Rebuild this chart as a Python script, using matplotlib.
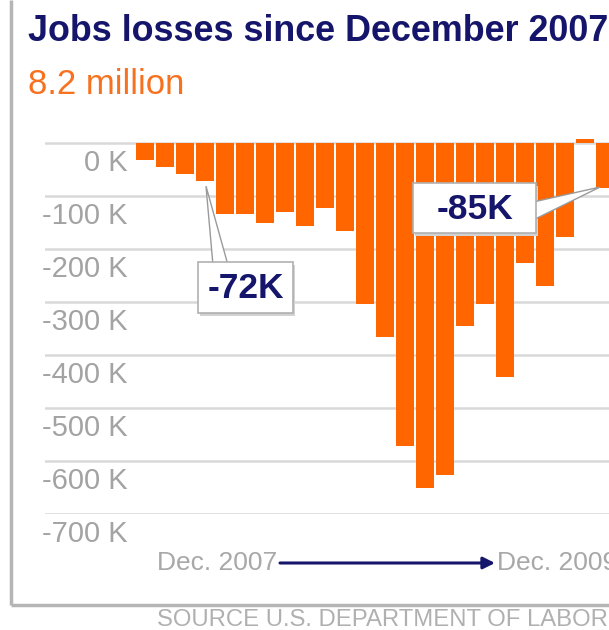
import numpy as np
import matplotlib.pyplot as plt
from matplotlib.patches import Rectangle, Polygon

plt.rcParams['font.family'] = ['Liberation Sans', 'DejaVu Sans']

# monthly change in payrolls, thousands (Jan 2008 .. Dec 2009)
months = ['Jan 08', 'Feb 08', 'Mar 08', 'Apr 08', 'May 08', 'Jun 08',
          'Jul 08', 'Aug 08', 'Sep 08', 'Oct 08', 'Nov 08', 'Dec 08',
          'Jan 09', 'Feb 09', 'Mar 09', 'Apr 09', 'May 09', 'Jun 09',
          'Jul 09', 'Aug 09', 'Sep 09', 'Oct 09', 'Nov 09', 'Dec 09']
change = [-32, -45, -58, -72, -134, -134, -151, -130, -157, -123, -166, -304,
          -366, -572, -651, -626, -345, -304, -442, -226, -270, -177, 8, -85]

yticks = [0, -100, -200, -300, -400, -500, -600, -700]
ylabels = ['0 K', '-100 K', '-200 K', '-300 K', '-400 K', '-500 K', '-600 K', '-700 K']

# bar index, callout text
callouts = [(3, '-72K'), (23, '-85K')]

title = 'Jobs losses since December 2007'
subtitle = '8.2 million'
start_lbl = 'Dec. 2007'
end_lbl = 'Dec. 2009'
source = 'SOURCE U.S. DEPARTMENT OF LABOR'

W, H = 609, 630
NAVY = '#15156b'
ORANGE = '#ff6600'

fig = plt.figure(figsize=(W / 100, H / 100), dpi=100)

# bar area in pixels: 0 K sits at y=143, 0.53 px per thousand
k = 0.53
y0 = 143
ytop, ybot = 20, -700
top_px = y0 - ytop * k
bot_px = y0 - ybot * k
left_px, right_px = 45, 609
ax = fig.add_axes([left_px / W, 1 - bot_px / H, (right_px - left_px) / W, (bot_px - top_px) / H])
ax.set_xlim(-5, -5 + (right_px - left_px) / 20)
ax.set_ylim(ybot, ytop)
ax.axis('off')

for v, lbl in zip(yticks, ylabels):
    ax.axhline(v, color='#d9d9d9', lw=1.8, zorder=1)
    ax.annotate(lbl, xy=(0, v), xycoords=('axes fraction', 'data'),
                xytext=(128 - left_px, -20), textcoords='offset pixels',
                ha='right', va='center', fontsize=21, color='#a3a3a3')

x = np.arange(len(change))
ax.bar(x, change, width=0.9, color=ORANGE, edgecolor='none', zorder=2)

# overlay in pixel coordinates for frame, titles and callouts
ov = fig.add_axes([0, 0, 1, 1])
ov.set_xlim(0, W)
ov.set_ylim(H, 0)
ov.axis('off')
ov.patch.set_alpha(0)

ov.plot([11, 11], [0, 605], color='#b5b5b5', lw=2.5, solid_capstyle='butt')
ov.plot([11, W], [605, 605], color='#b5b5b5', lw=2.5, solid_capstyle='butt')

ov.text(28, 41, title, fontsize=25.8, fontweight='bold', color=NAVY, va='baseline')
ov.text(28, 94, subtitle, fontsize=25, color='#f77220', va='baseline')

# Dec. 2009 runs off the right edge of the frame
ov.text(157, 563, start_lbl, fontsize=19, color='#a8a8a8', va='center')
ov.annotate('', xy=(495, 563), xytext=(280, 563),
            arrowprops=dict(arrowstyle='-|>,head_length=0.7,head_width=0.35',
                            color=NAVY, lw=2.2, shrinkA=0, shrinkB=0))
ov.text(497, 563, end_lbl, fontsize=19, color='#a8a8a8', va='center')
ov.text(157, 620, source, fontsize=17.2, color='#b0b0b0', va='center')


def callout(i, text, tip_dx, tip_dy, box, wedge):
    bx, by = ax.transData.transform((i, change[i]))
    tx, ty = bx + tip_dx, H - by + tip_dy
    l, t, r, b = tx + box[0], ty + box[1], tx + box[2], ty + box[3]
    ov.add_patch(Polygon([(tx, ty)] + [(tx + wx, ty + wy) for wx, wy in wedge],
                         closed=True, fc='white', ec='#9a9a9a', lw=1, zorder=5))
    ov.add_patch(Rectangle((l + 2, t + 3), r - l, b - t, fc='#d2d2d2', ec='none', zorder=4))
    ov.add_patch(Rectangle((l, t), r - l, b - t, fc='white', ec='#b0b0b0', lw=1.2, zorder=6))
    ov.text((l + r) / 2, (t + b) / 2 + 1, text, fontsize=25.5, fontweight='bold',
            color=NAVY, ha='center', va='center', zorder=7)


callout(callouts[0][0], callouts[0][1], 1, 5, (-8, 76, 87, 127), [(7, 79), (22, 79)])
callout(callouts[1][0], callouts[1][1], -5, -1, (-187, -4, -64, 46), [(-67, 15), (-67, 33)])

fig.savefig('out.png', dpi=100, facecolor='white')
